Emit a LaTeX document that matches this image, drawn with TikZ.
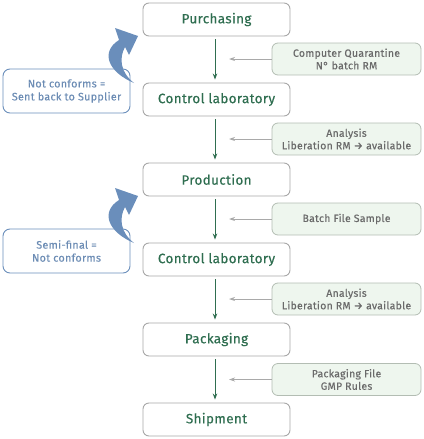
\documentclass[tikz,border=0pt]{standalone}
\usepackage{fontspec}
\setmainfont{Fira Sans}[FakeBold=0.35,LetterSpace=2.5]
\usetikzlibrary{arrows.meta}
\definecolor{mgreen}{HTML}{2F6E50}
\definecolor{mborder}{HTML}{A8A8A8}
\definecolor{sfill}{HTML}{EEF6EE}
\definecolor{sborder}{HTML}{B3BDB3}
\definecolor{stext}{HTML}{6A6A6A}
\definecolor{garrow}{HTML}{A9A9A9}
\definecolor{lblue}{HTML}{6A8EBB}
\definecolor{ltext}{HTML}{6C8CB4}
\tikzset{
  mainbox/.style={draw=mborder, line width=0.9pt, rounded corners=6pt, fill=white,
    minimum width=147pt, minimum height=33pt, inner sep=0pt,
    text=mgreen, font=\fontsize{13.5}{15}\selectfont},
  sidebox/.style={draw=sborder, line width=0.8pt, rounded corners=6pt, fill=sfill,
    minimum width=149pt, minimum height=32pt, inner sep=0pt, align=center,
    text=stext, font=\fontsize{10.5}{12.5}\selectfont},
  leftbox/.style={draw=lblue, line width=0.9pt, rounded corners=7pt,
    minimum width=127pt, minimum height=44pt, inner sep=0pt, align=center,
    text=ltext, font=\fontsize{10.8}{13}\selectfont},
  flowarrow/.style={draw=mgreen, line width=0.9pt, -{Stealth[length=6pt,width=4.5pt]},
    shorten <=3pt, shorten >=3pt},
  grayarrow/.style={draw=garrow, line width=0.9pt, -{Stealth[length=6pt,width=4pt]}},
  bigarrow/.style={fill=lblue, draw=none}
}
\begin{document}
\begin{tikzpicture}[x=1pt,y=-1pt]
\useasboundingbox (0,0) rectangle (423,439);
% main boxes
\node[mainbox] (p)  at (216.5,19.5)  {Purchasing};
\node[mainbox] (c1) at (216.5,99.5)  {Control laboratory};
\node[mainbox] (pr) at (216.5,179.5) {Production};
\node[mainbox] (c2) at (216.5,259.5) {Control laboratory};
\node[mainbox] (pk) at (216.5,339.5) {Packaging};
\node[mainbox] (sh) at (216.5,419.5) {Shipment};
% flow arrows
\draw[flowarrow] ([xshift=-1.5pt]p.south)  -- ([xshift=-1.5pt]c1.north);
\draw[flowarrow] ([xshift=-1.5pt]c1.south) -- ([xshift=-1.5pt]pr.north);
\draw[flowarrow] ([xshift=-1.5pt]pr.south) -- ([xshift=-1.5pt]c2.north);
\draw[flowarrow] ([xshift=-1.5pt]c2.south) -- ([xshift=-1.5pt]pk.north);
\draw[flowarrow] ([xshift=-1.5pt]pk.south) -- ([xshift=-1.5pt]sh.north);
% side boxes
\node[sidebox] (s1) at (346.5,59)    {Computer Quarantine\\N° batch RM};
\node[sidebox] (s2) at (346.5,139)   {Analysis\\Liberation RM → available};
\node[sidebox] (s3) at (346.5,219)   {Batch File Sample};
\node[sidebox] (s4) at (346.5,299)   {Analysis\\Liberation RM → available};
\node[sidebox] (s5) at (346.5,379.5) {Packaging File\\GMP Rules};
\coordinate (g1) at (229,59);
\coordinate (g2) at (229,139);
\coordinate (g3) at (229,219);
\coordinate (g4) at (229,299);
\coordinate (g5) at (229,379.5);
\draw[grayarrow] (s1.west) -- (g1);
\draw[grayarrow] (s2.west) -- (g2);
\draw[grayarrow] (s3.west) -- (g3);
\draw[grayarrow] (s4.west) -- (g4);
\draw[grayarrow] (s5.west) -- (g5);
% curved return arrows
\foreach \dy in {0,160} {
  \fill[lblue] (138,36+\dy) -- (129,55+\dy) -- (125,47+\dy)
    .. controls (119,58+\dy) and (120,72+\dy) .. (134,83+\dy)
    .. controls (108,72+\dy) and (100,52+\dy) .. (119,40+\dy)
    -- (115,28+\dy) -- cycle;
}
% left boxes
\node[leftbox] (l1) at (66.5,91)  {Not conforms =\\Sent back to Supplier};
\node[leftbox] (l2) at (66.5,251) {Semi-final =\\Not conforms};
\end{tikzpicture}
\end{document}
